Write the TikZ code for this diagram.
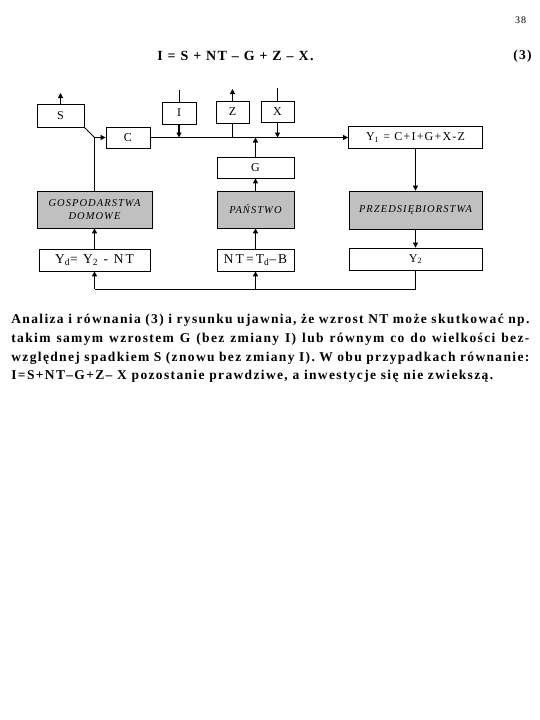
\documentclass[tikz,border=0pt]{standalone}
\usepackage{xcolor}
\usepackage{fontspec}
\setmainfont{Liberation Serif}[LetterSpace=10]
\usepackage{tikz}
\usetikzlibrary{arrows.meta}

\definecolor{sectorgray}{RGB}{192,192,192}

\begin{document}
\begin{tikzpicture}
[x=1pt,y=-1pt,->,>={Triangle[length=5pt,width=5pt]},
line width=0.8pt,
box node/.style={draw, inner sep=0pt, font=\fontsize{12}{14}\selectfont},
sector node/.style={box node, fill=sectorgray, align=center,
  font=\itshape\fontsize{10.5}{12.5}\selectfont},
income node/.style={box node, font=\fontsize{13.5}{15}\selectfont\addfontfeature{LetterSpace=16}},
flow/.style={line width=1.5pt}]

  \useasboundingbox (0,0) rectangle (540,720);

  % headline
  \node (page) at (520.5,20) {\fontsize{10}{12}\selectfont 38};
  \node (eqn) at (235.5,56) {\fontsize{14}{16}\selectfont\bfseries I = S + NT -- G + Z -- X.};
  \node (eqnno) at (522.5,56) {\fontsize{13.5}{16}\selectfont\bfseries (3)};

  % upper row
  \node[box node, minimum width=47, minimum height=23] (S) at (60.5,115.5) {S};
  \node[box node, minimum width=44, minimum height=21] (C) at (128,137.5) {C};
  \node[box node, minimum width=34, minimum height=22] (I) at (179,113) {I};
  \node[box node, minimum width=33, minimum height=22] (Z) at (232.5,112) {Z};
  \node[box node, minimum width=33, minimum height=21] (X) at (277.5,111.5) {X};
  \node[box node, minimum width=77, minimum height=21] (G) at (255.5,167.5) {G};
  \node[box node, minimum width=134, minimum height=22] (Y1) at (415.5,137.5)
    {Y\textsubscript{1} = C+I+G+X-Z};

  % sectors
  \node[sector node, minimum width=115, minimum height=37] (hh) at (94.5,209.5)
    {GOSPODARSTWA\\DOMOWE};
  \node[sector node, minimum width=77, minimum height=37] (gov) at (255.5,209.5) {PAŃSTWO};
  \node[sector node, minimum width=133, minimum height=38] (firms) at (415.5,210)
    {PRZEDSIĘBIORSTWA};

  % lower row
  \node[income node, minimum width=111, minimum height=22] (Yd) at (94.5,260)
    {Y\textsubscript{d}= Y\textsubscript{2} - NT};
  \node[income node, minimum width=77, minimum height=22] (NT) at (255.5,260)
    {NT=T\textsubscript{d}--B};
  \node[box node, minimum width=133, minimum height=22] (Y2) at (415.5,259)
    {Y\textsubscript{2}};

  \coordinate (Sout) at (60.5,93);
  \coordinate (Iin) at (179,90);
  \coordinate (Zout) at (232.5,89);
  \coordinate (Xin) at (277.5,88);
  \coordinate (base) at (0,289);

  % flows
  \draw (S) -- (Sout);
  \draw[-] (S.south east) -- (C.west -| hh.north);
  \draw (hh.north) |- (C.west);
  \draw[-] (Iin) -- (I.north);
  \draw[flow] (I.south) -- (I.south |- C.east);
  \draw (Z.north) -- (Zout);
  \draw[-] (Z.south |- C.east) -- (Z.south);
  \draw[-] (Xin) -- (X.north);
  \draw[flow] (X.south) -- (X.south |- C.east);
  \draw[flow] (G.north) -- (G.north |- C.east);
  \draw (C.east) -- (Y1.west);
  \draw (Y1.south) -- (firms.north);
  \draw (firms.south) -- (Y2.north);
  \draw[-] (Y2.south) |- (Yd.south |- base);
  \draw[flow] (Yd.south |- base) -- (Yd.south);
  \draw[flow] (NT.south |- base) -- (NT.south);
  \draw[flow] (Yd.north) -- (hh.south);
  \draw[flow] (NT.north) -- (gov.south);
  \draw[flow] (gov.north) -- (G.south);

  % comment text
  \node[anchor=north west, inner sep=0pt, text width=518pt, align=justify,
    font=\bfseries\fontsize{13.5}{18.7}\selectfont] (para) at (11,314)
    {Analiza i równania (3) i rysunku ujawnia, że wzrost NT może skutkować np.\linebreak
     takim samym wzrostem G (bez zmiany I) lub równym co do wielkości bez-\linebreak
     względnej spadkiem S (znowu bez zmiany I). W obu przypadkach równanie:\linebreak
     I=S+NT--G+Z-- X pozostanie prawdziwe, a inwestycje się nie zwiekszą.};

\end{tikzpicture}
\end{document}
